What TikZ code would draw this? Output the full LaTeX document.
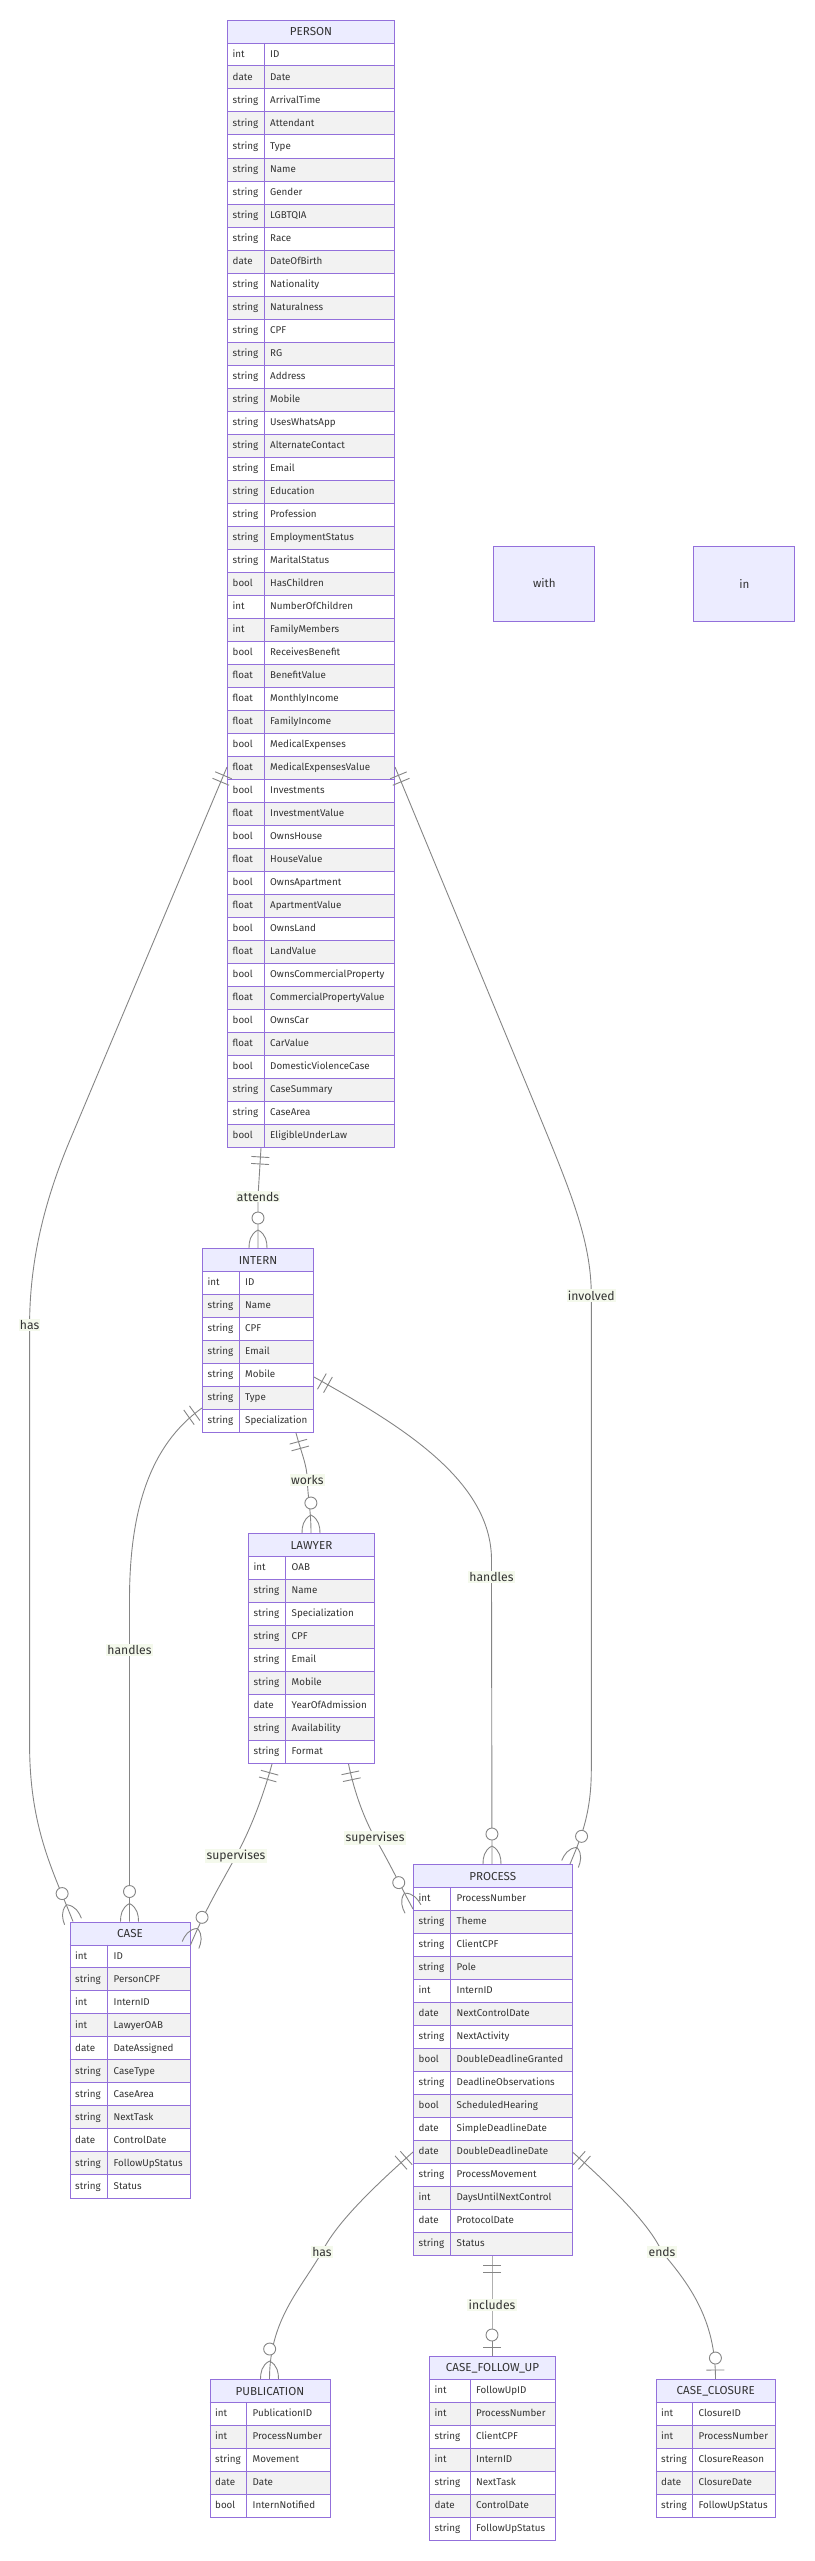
\documentclass[tikz,border=0pt]{standalone}
\usepackage{fontspec}
\setmainfont{Fira Sans}
\usepackage{xcolor}
\usepackage{tikz}
\usetikzlibrary{calc}
\usetikzlibrary{decorations.markings}

\definecolor{erborder}{HTML}{9370DB}
\definecolor{headfill}{HTML}{ECECFF}
\definecolor{rowgray}{HTML}{F2F2F2}
\definecolor{textgray}{HTML}{333333}
\definecolor{relgray}{HTML}{858585}
\definecolor{lblfill}{HTML}{F4F9EC}

\tikzset{
    erline/.style={draw=erborder, line width=1pt},
    erbox/.style={draw=erborder, line width=1pt, inner sep=0pt},
    erhead/.style={fill=headfill, draw=erborder, line width=1pt, minimum height=23pt,
        inner sep=0pt, text=textgray, font=\fontsize{11.6}{14}\selectfont},
    ercell/.style={anchor=west, inner sep=0pt, text=textgray,
        text height=1.5ex, text depth=.25ex, font=\fontsize{9.8}{12}\selectfont},
    ertype/.style={ercell, xshift=5.5pt},
    ername/.style={ercell, xshift=6pt},
    erplain/.style={fill=headfill, draw=erborder, line width=1pt, minimum width=100.7pt,
        minimum height=75pt, inner sep=0pt, text=textgray, font=\fontsize{11.6}{14}\selectfont},
    rel/.style={draw=relgray, line width=0.9pt},
    relmark/.style={draw=relgray, line width=0.9pt},
    lbl/.style={fill=lblfill, text=textgray, inner sep=1.2pt, font=\fontsize{12.2}{14}\selectfont},
    onlyone/.style={postaction={decorate, decoration={markings,
        mark=at position 0 with {\draw[relmark] (9,-9) -- (9,9) (16,-9) -- (16,9);}}}},
    % marks at the far end are set 1pt back to stay clear of rounding
    zeromany/.style={postaction={decorate, decoration={markings,
        mark=at position -1pt with {
            \draw[relmark] (-17,0) .. controls (-13,8) and (-5,9) .. (1,9)
                (-17,0) .. controls (-13,-8) and (-5,-9) .. (1,-9);
            \draw[relmark, fill=white] (-29,0) circle (6pt);}}}},
    zeroone/.style={postaction={decorate, decoration={markings,
        mark=at position -1pt with {
            \draw[relmark] (-8,-9) -- (-8,9);
            \draw[relmark, fill=white] (-20,0) circle (6pt);}}}},
}

% #1 name, #2 left, #3 top, #4 type column, #5 width, #6 title, #7 rows
\newcommand{\erentity}[7]{%
    \foreach [count=\i] \ty/\nm in {#7} {
        \pgfmathsetmacro{\rowy}{#3+23*\i}
        \ifodd\i\relax \def\rowfill{white}\else \def\rowfill{rowgray}\fi
        \fill[\rowfill] (#2,\rowy) rectangle ++(#5,23);
        \node[ertype] (#1-t\i) at (#2,\rowy+11.5) {\ty};
        \node[ername] (#1-n\i) at (#2+#4,\rowy+11.5) {\nm};
        \draw[erline] (#2,\rowy) -- ++(#5,0);
        \xdef\ernrows{\i}
    }
    \node[erhead, minimum width=#5pt, anchor=north west] (#1-h) at (#2,#3) {#6};
    \draw[erline] (#2+#4,#3+23) -- (#2+#4,#3+23+23*\ernrows);
    \node[erbox, minimum width=#5pt, minimum height={23*(\ernrows+1)*1pt},
        anchor=north west] (#1) at (#2,#3) {};
}

\begin{document}
\begin{tikzpicture}[x=1pt, y=-1pt]
\useasboundingbox (0,0) rectangle (814,2561);

%-------------------------
% Entities
%-------------------------
\erentity{person}{227}{20}{37}{167}{PERSON}{int/ID, date/Date, string/ArrivalTime,
    string/Attendant, string/Type, string/Name, string/Gender, string/LGBTQIA,
    string/Race, date/DateOfBirth, string/Nationality, string/Naturalness,
    string/CPF, string/RG, string/Address, string/Mobile, string/UsesWhatsApp,
    string/AlternateContact, string/Email, string/Education, string/Profession,
    string/EmploymentStatus, string/MaritalStatus, bool/HasChildren,
    int/NumberOfChildren, int/FamilyMembers, bool/ReceivesBenefit,
    float/BenefitValue, float/MonthlyIncome, float/FamilyIncome,
    bool/MedicalExpenses, float/MedicalExpensesValue, bool/Investments,
    float/InvestmentValue, bool/OwnsHouse, float/HouseValue, bool/OwnsApartment,
    float/ApartmentValue, bool/OwnsLand, float/LandValue,
    bool/OwnsCommercialProperty, float/CommercialPropertyValue, bool/OwnsCar,
    float/CarValue, bool/DomesticViolenceCase, string/CaseSummary,
    string/CaseArea, bool/EligibleUnderLaw}

\erentity{intern}{202}{1248}{37}{111}{INTERN}{int/ID, string/Name, string/CPF,
    string/Email, string/Mobile, string/Type, string/Specialization}

\erentity{lawyer}{248}{1533}{37.5}{126}{LAWYER}{int/OAB, string/Name,
    string/Specialization, string/CPF, string/Email, string/Mobile,
    date/YearOfAdmission, string/Availability, string/Format}

\erentity{case}{69.5}{1921.5}{38}{120}{CASE}{int/ID, string/PersonCPF,
    int/InternID, int/LawyerOAB, date/DateAssigned, string/CaseType,
    string/CaseArea, string/NextTask, date/ControlDate, string/FollowUpStatus,
    string/Status}

\erentity{process}{413}{1864}{37.5}{158.5}{PROCESS}{int/ProcessNumber,
    string/Theme, string/ClientCPF, string/Pole, int/InternID,
    date/NextControlDate, string/NextActivity, bool/DoubleDeadlineGranted,
    string/DeadlineObservations, bool/ScheduledHearing, date/SimpleDeadlineDate,
    date/DoubleDeadlineDate, string/ProcessMovement, int/DaysUntilNextControl,
    date/ProtocolDate, string/Status}

\erentity{publication}{209.5}{2379}{37}{120}{PUBLICATION}{int/PublicationID,
    int/ProcessNumber, string/Movement, date/Date, bool/InternNotified}

\erentity{followup}{429}{2356}{41}{126}{CASE\_FOLLOW\_UP}{int/FollowUpID,
    int/ProcessNumber, string/ClientCPF, int/InternID, string/NextTask,
    date/ControlDate, string/FollowUpStatus}

\erentity{closure}{655.5}{2379}{37}{119.5}{CASE\_CLOSURE}{int/ClosureID,
    int/ProcessNumber, string/ClosureReason, date/ClosureDate,
    string/FollowUpStatus}

% Loose boxes
\node[erplain] (with) at (544.3,583.5) {with};
\node[erplain] (in) at (744.3,583.5) {in};

%-------------------------
% Relationships
%-------------------------
\draw[rel, onlyone, zeromany] ($(person.south west)+(34,0)$)
    -- (258,1196.5) node[lbl] (attends) {attends}
    -- ($(intern.north west)+(56,0)$);

\draw[rel, onlyone, zeromany] ($(person.north west)+(0,747)$)
    -- (70,1140) .. controls (44.8,1200) and (29.6,1260) .. (29.6,1325)
    node[lbl] (hascase) {has}
    -- (29.6,1745) .. controls (29.6,1830) and (55,1875) .. ($(case.north west)+(3.5,0)$);

\draw[rel, onlyone, zeromany] ($(person.north east)+(0,747)$)
    -- (535,1105) .. controls (570,1190) and (591.3,1240) .. (591.3,1295.5)
    node[lbl] (involved) {involved}
    -- (591.3,1770) .. controls (591.3,1815) and (580,1840) .. ($(process.north east)+(-2.5,0)$);

\draw[rel, onlyone, zeromany] ($(intern.north west)+(0,160)$)
    .. controls (150,1445) and (129.5,1510) .. (129.5,1600)
    -- (129.5,1650) node[lbl] (handlescase) {handles}
    -- ($(case.north west)+(60,0)$);

\draw[rel, onlyone, zeromany] ($(intern.north east)+(0,129)$)
    .. controls (400,1425) and (491.5,1480) .. (491.5,1560)
    -- (491.5,1577) node[lbl] (handlesprocess) {handles}
    -- ($(process.north west)+(79,0)$);

\draw[rel, onlyone, zeromany] ($(intern.south west)+(94,0)$)
    .. controls (302,1455) and (307,1465) .. (307.3,1480) node[lbl] (works) {works}
    .. controls (308,1500) and (311,1510) .. ($(lawyer.north west)+(63,0)$);

\draw[rel, onlyone, zeromany] ($(lawyer.south west)+(24,0)$)
    .. controls (262,1800) and (250,1830) .. (236,1856) node[lbl] (supcase) {supervises}
    .. controls (222,1882) and (205,1910) .. ($(case.north east)+(0,23.5)$);

\draw[rel, onlyone, zeromany] ($(lawyer.south west)+(100.5,0)$)
    .. controls (355,1795) and (365,1820) .. (375,1838) node[lbl] (supprocess) {supervises}
    .. controls (388,1860) and (400,1885) .. ($(process.north west)+(0,45)$);

\draw[rel, onlyone, zeromany] ($(process.north west)+(0,288)$)
    .. controls (370,2190) and (335,2225) .. (322,2252) node[lbl] (haspub) {has}
    .. controls (300,2290) and (269.5,2320) .. ($(publication.north west)+(60,0)$);

\draw[rel, onlyone, zeroone] ($(process.south west)+(79,0)$)
    -- (492,2305) node[lbl] (includes) {includes}
    -- ($(followup.north west)+(63,0)$);

\draw[rel, onlyone, zeroone] ($(process.north east)+(0,288)$)
    .. controls (615,2190) and (650,2225) .. (662,2252) node[lbl] (ends) {ends}
    .. controls (690,2285) and (715.5,2320) .. ($(closure.north west)+(60,0)$);
\end{tikzpicture}
\end{document}
